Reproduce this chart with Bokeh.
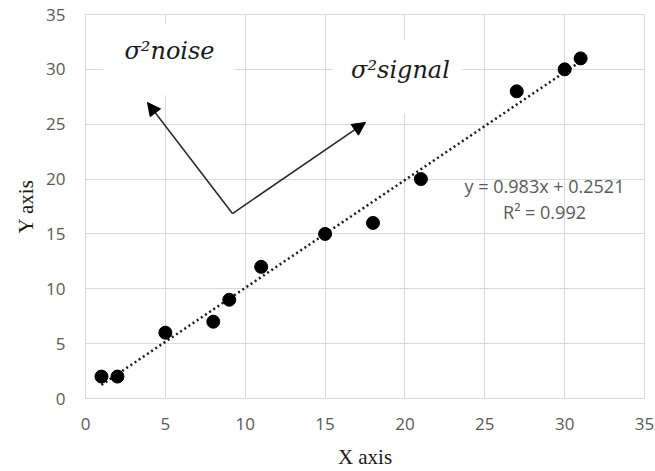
from bokeh.plotting import figure
from bokeh.models import Range1d, Label, Arrow, NormalHead, BoxAnnotation
from bokeh.embed import file_html
from bokeh.resources import INLINE
import numpy as np

x_vals = [1, 2, 5, 8, 9, 11, 15, 18, 21, 27, 30, 31]
y_vals = [2, 2, 6, 7, 9, 12, 15, 16, 20, 28, 30, 31]
slope = 0.983
intercept = 0.2521
r2 = 0.992
ticks = [0, 5, 10, 15, 20, 25, 30, 35]

p = figure(width=655, height=471, output_backend="svg", toolbar_location=None,
           x_range=Range1d(0, 35), y_range=Range1d(0, 35),
           min_border_left=85, min_border_right=11, min_border_top=14, min_border_bottom=73)
p.background_fill_color = "white"
p.border_fill_color = "white"
p.outline_line_color = "#d9d9d9"

for ax in (p.xaxis[0], p.yaxis[0]):
    ax.ticker = ticks
    ax.major_tick_in = 0
    ax.major_tick_out = 0
    ax.minor_tick_in = 0
    ax.minor_tick_out = 0
    ax.axis_line_color = "#d9d9d9"
    ax.major_label_text_font = "Open Sans"
    ax.major_label_text_font_size = "17px"
    ax.major_label_text_color = "#595959"
    ax.axis_label_text_font = "Liberation Serif"
    ax.axis_label_text_font_size = "21px"
    ax.axis_label_text_font_style = "normal"
    ax.axis_label_text_color = "#1a1a1a"

p.xaxis.axis_label = "X axis"
p.yaxis.axis_label = "Y axis"
p.xaxis.major_label_standoff = 19
p.yaxis.major_label_standoff = 20
p.xaxis.axis_label_standoff = 12
p.yaxis.axis_label_standoff = 5

p.xgrid.ticker = ticks
p.ygrid.ticker = ticks
p.grid.grid_line_color = "#d9d9d9"
p.grid.grid_line_width = 1

# white boxes behind the annotation texts
p.add_layout(BoxAnnotation(left=1.13, right=9.33, bottom=27.62, top=34.18,
                           fill_color="white", fill_alpha=1, line_color=None))
p.add_layout(BoxAnnotation(left=15.47, right=23.61, bottom=25.98, top=32.63,
                           fill_color="white", fill_alpha=1, line_color=None))

# trend line
xs = np.array([min(x_vals), max(x_vals)], dtype=float)
p.line(xs, slope * xs + intercept, line_color="#1a1a1a", line_width=2.5,
       line_dash="2 3")

p.scatter(x_vals, y_vals, size=13, fill_color="black", line_color="black")

# arrows
vx, vy = 9.2, 16.86
p.add_layout(Arrow(x_start=vx, y_start=vy, x_end=3.88, y_end=26.98,
                   line_color="#262626", line_width=1.5,
                   end=NormalHead(size=13, fill_color="black", line_color="black")))
p.add_layout(Arrow(x_start=vx, y_start=vy, x_end=17.53, y_end=25.16,
                   line_color="#262626", line_width=1.5,
                   end=NormalHead(size=13, fill_color="black", line_color="black")))

p.add_layout(Label(x=5.26, y=31.7, text="σ²noise", text_font="DejaVu Serif",
                   text_font_style="italic", text_font_size="24px",
                   text_align="center", text_baseline="middle", text_color="#1a1a1a"))
p.add_layout(Label(x=19.72, y=29.9, text="σ²signal", text_font="DejaVu Serif",
                   text_font_style="italic", text_font_size="24px",
                   text_align="center", text_baseline="middle", text_color="#1a1a1a"))

p.add_layout(Label(x=28.74, y=19.4, text=f"y = {slope}x + {intercept}", text_font="Open Sans",
                   text_font_size="18px", text_align="center", text_baseline="middle",
                   text_color="#595959"))
p.add_layout(Label(x=28.74, y=17.0, text=f"R² = {r2}", text_font="Open Sans",
                   text_font_size="18px", text_align="center", text_baseline="middle",
                   text_color="#595959"))

open("out.html", "w").write(file_html(p, INLINE))
